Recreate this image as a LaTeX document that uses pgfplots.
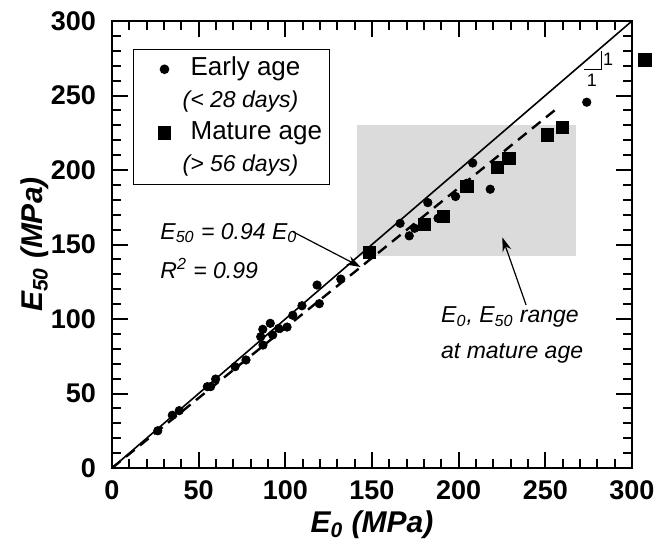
\documentclass[border=0pt]{standalone}
\usepackage{fontspec}
\setmainfont{Liberation Sans}
\usepackage{pgfplots}
\pgfplotsset{compat=1.18}
\usetikzlibrary{arrows.meta}

\newcommand{\annofont}{\fontsize{11.5}{13}\selectfont\itshape}
\newcommand{\labelfont}{\fontsize{15}{17}\selectfont\bfseries\itshape}
\newcommand{\tickfont}{\fontsize{13.5}{15}\selectfont\bfseries}
\newcommand{\legfont}{\fontsize{13}{15}\selectfont}

\begin{document}
\begin{tikzpicture}
\useasboundingbox (0,0) rectangle (329.5pt,277pt);
\begin{axis}[
  at={(56pt,43pt)}, anchor=south west,
  scale only axis, width=260pt, height=223.5pt,
  xmin=0, xmax=300, ymin=0, ymax=300,
  xtick={0,50,...,300}, ytick={0,50,...,300},
  minor tick num=4,
  tick align=inside,
  major tick length=8pt, minor tick length=4.5pt,
  tick style={black, line width=1pt},
  axis line style={line width=1.4pt},
  /pgf/number format/assume math mode=true,
  xticklabel={\tickfont\pgfmathprintnumber{\tick}},
  yticklabel={\tickfont\pgfmathprintnumber{\tick}},
  xticklabel style={yshift=-3pt},
  yticklabel style={xshift=-4.5pt},
  xlabel={E\textsubscript{0} (MPa)},
  ylabel={E\textsubscript{50} (MPa)},
  every axis x label/.style={at={(axis description cs:0.5,-0.127)}, anchor=center, font=\labelfont},
  every axis y label/.style={at={(axis description cs:-0.148,0.5)}, anchor=center, rotate=90, font=\labelfont},
  clip=false,
  legend cell align=left,
  legend style={at={(0.040,0.937)}, anchor=north west, draw=black, line width=0.6pt,
    fill=white, inner sep=2pt, row sep=0.5pt,
    nodes={inner sep=1.5pt, text height=9.5pt, text depth=3pt}},
]

% range of E0 and E50 at mature age
\addplot[fill=black!14, draw=none, forget plot]
  coordinates {(141.5,142.3) (267.6,142.3) (267.6,230.4) (141.5,230.4)} -- cycle;

% line of equality and fitted line E50 = 0.94 E0
\addplot[black, line width=0.8pt, forget plot] coordinates {(0,0) (300,300)};
\addplot[black, line width=1.2pt, dash pattern=on 5.5pt off 3.5pt, forget plot]
  coordinates {(0,0) (256,240.64)};

% 1:1 slope marker
\addplot[black, line width=0.5pt, forget plot]
  coordinates {(272.3,267.6) (282.5,267.6) (282.5,279.9)};

% early age specimens
\addplot[only marks, mark=*, mark size=2.1pt, black,
  legend image code/.code={\path (0pt,0pt) (24.5pt,0pt); \draw plot coordinates {(13.25pt,0pt)};}]
  coordinates {
  (26.4,25.0) (34.8,35.4) (38.8,38.5) (55.0,54.6) (56.9,54.6) (59.8,59.7)
  (71.0,68.0) (77.3,72.5) (85.8,88.1) (87.0,93.1) (87.1,82.5) (91.3,97.1)
  (92.7,89.3) (96.2,93.7) (101.0,94.6) (104.3,102.5) (109.6,108.9) (118.3,122.8)
  (119.6,110.3) (132.0,126.8) (166.2,164.2) (171.5,155.8) (174.6,160.9) (182.2,178.1)
  (188.1,167.6) (198.2,182.2) (204.7,191.1) (208.1,204.7) (218.2,187.1) (273.9,245.5)
  };
\addlegendentry{\legfont Early age}
\addlegendimage{empty legend}
\addlegendentry{\hspace*{-4pt}\annofont (< 28 days)}

% mature age specimens
\addplot[only marks, mark=square*, mark size=3.1pt, black,
  legend image code/.code={\path (0pt,0pt) (24.5pt,0pt); \draw plot coordinates {(13.25pt,0pt)};}]
  coordinates {
  (148.4,144.8) (180.4,163.6) (191.2,168.7) (204.7,188.8) (222.2,201.9)
  (228.9,207.8) (251.2,223.5) (260.0,228.7) (307.5,273.8)
  };
\addlegendentry{\legfont Mature age}
\addlegendimage{empty legend}
\addlegendentry{\hspace*{-4pt}\annofont (> 56 days)}

% annotations
\addplot[black, line width=0.6pt, -{Stealth[length=7pt, width=4.5pt]}, forget plot]
  coordinates {(104.3,158.6) (143.5,134.9)};
\addplot[black, line width=0.6pt, -{Stealth[length=7pt, width=4.5pt]}, forget plot]
  coordinates {(238.9,109.4) (225.2,154.8)};

\node[anchor=west, font=\annofont, inner sep=0pt] at (axis cs:27.7,157.7)
  {E\textsubscript{50} = 0.94 E\textsubscript{0}};
\node[anchor=west, font=\annofont, inner sep=0pt] at (axis cs:27.7,134)
  {R\textsuperscript{2} = 0.99};
\node[anchor=west, font=\annofont, inner sep=0pt] at (axis cs:189.7,101.1)
  {E\textsubscript{0}, E\textsubscript{50} range};
\node[anchor=west, font=\annofont, inner sep=0pt] at (axis cs:189.7,77)
  {at mature age};
\node[font=\fontsize{9}{10}\selectfont, inner sep=0pt] at (axis cs:286.2,274) {1};
\node[font=\fontsize{9}{10}\selectfont, inner sep=0pt] at (axis cs:276.8,259.9) {1};

\end{axis}
\end{tikzpicture}
\end{document}
